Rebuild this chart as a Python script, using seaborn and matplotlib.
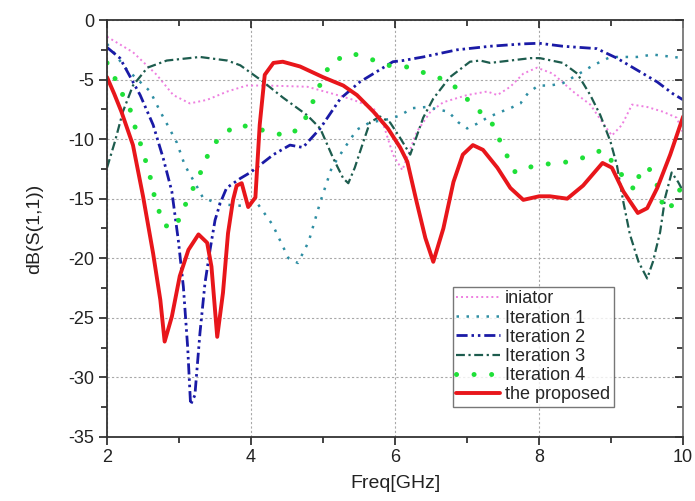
import matplotlib
matplotlib.use("Agg")
import matplotlib.pyplot as plt
from matplotlib.ticker import MultipleLocator
import seaborn as sns

# Reflection coefficient S11 (dB) vs frequency (GHz) for each design stage
x_iniator = [2.0, 2.36, 2.69, 2.92, 3.15, 3.39, 3.67, 3.94, 4.22, 4.78, 5.14, 5.42, 5.7, 5.85,
             5.97, 6.1, 6.3, 6.49, 6.67, 7.0, 7.28, 7.42, 7.6, 7.78, 7.97, 8.19, 8.47, 8.71,
             8.89, 9.01, 9.15, 9.29, 9.5, 9.72, 9.91, 10.0]
y_iniator = [-1.4, -2.7, -4.6, -6.3, -7.0, -6.7, -6.0, -5.5, -5.5, -5.6, -6.2, -6.7, -7.4, -9.0,
             -11.3, -12.6, -9.4, -7.7, -6.9, -6.3, -6.0, -6.3, -5.6, -4.5, -4.0, -4.5, -6.0, -7.1,
             -8.7, -9.7, -8.8, -7.1, -7.3, -7.7, -8.2, -9.5]

x_iter1 = [2.0, 2.14, 2.25, 2.46, 2.6, 2.74, 2.83, 2.97, 3.08, 3.25, 3.33, 3.53, 3.8, 4.1, 4.3,
           4.52, 4.65, 4.8, 4.96, 5.12, 5.28, 5.47, 5.65, 5.93, 6.07, 6.24, 6.44, 6.74, 6.88,
           7.0, 7.14, 7.28, 7.43, 7.6, 7.74, 7.85, 7.99, 8.15, 8.33, 8.53, 8.75, 8.99, 9.36,
           9.58, 10.0]
y_iter1 = [-2.0, -3.1, -4.0, -5.2, -6.0, -7.7, -8.7, -10.3, -12.2, -14.0, -14.9, -15.4, -15.6,
           -15.5, -17.2, -20.0, -20.4, -18.6, -15.3, -12.4, -10.9, -9.2, -8.6, -8.3, -8.0, -7.4,
           -7.3, -7.7, -8.6, -9.1, -8.7, -8.2, -7.8, -7.4, -7.0, -6.1, -5.5, -5.5, -5.3, -4.6,
           -3.8, -3.1, -3.1, -2.9, -3.2]

x_iter2 = [2.0, 2.18, 2.46, 2.64, 2.78, 2.9, 2.99, 3.06, 3.12, 3.16, 3.22, 3.29, 3.36, 3.43,
           3.5, 3.57, 3.66, 3.85, 3.99, 4.31, 4.54, 4.72, 4.96, 5.24, 5.51, 5.97, 6.11, 6.39,
           6.86, 7.32, 7.78, 8.0, 8.33, 8.8, 9.08, 9.36, 9.64, 9.86, 10.0]
y_iter2 = [-2.3, -3.2, -6.3, -8.8, -11.6, -14.4, -18.5, -22.4, -27.5, -32.3, -31.5, -26.3, -22.1,
           -19.3, -16.8, -15.4, -14.1, -13.3, -12.8, -11.3, -10.5, -10.7, -9.1, -6.6, -5.2, -3.5,
           -3.4, -3.1, -2.5, -2.2, -2.0, -1.95, -2.2, -2.4, -3.2, -4.2, -5.2, -6.2, -6.7]

x_iter3 = [2.0, 2.11, 2.22, 2.36, 2.56, 2.83, 3.29, 3.67, 3.85, 4.15, 4.44, 4.78, 4.96, 5.14,
           5.28, 5.35, 5.44, 5.56, 5.65, 5.79, 5.93, 6.07, 6.21, 6.39, 6.53, 6.76, 7.04, 7.18,
           7.32, 7.6, 7.88, 8.01, 8.33, 8.53, 8.71, 8.85, 8.99, 9.08, 9.17, 9.26, 9.38, 9.5,
           9.58, 9.68, 9.75, 9.84, 9.93, 10.0]
y_iter3 = [-12.4, -10.2, -7.7, -5.5, -4.0, -3.4, -3.1, -3.4, -3.8, -5.1, -6.5, -8.0, -9.1, -11.6,
           -13.3, -13.7, -12.4, -10.2, -8.6, -8.1, -8.6, -9.9, -11.3, -8.2, -6.6, -4.8, -3.5,
           -3.4, -3.6, -3.4, -3.2, -3.2, -3.6, -4.5, -6.3, -8.0, -10.2, -12.2, -15.3, -18.0,
           -20.3, -21.7, -20.3, -17.8, -14.9, -12.8, -13.6, -14.4]

x_iter4 = [2.0, 2.11, 2.22, 2.32, 2.39, 2.46, 2.53, 2.6, 2.64, 2.71, 2.78, 2.94, 3.04, 3.13,
           3.25, 3.43, 3.57, 3.8, 4.03, 4.29, 4.54, 4.72, 4.82, 4.92, 5.0, 5.12, 5.4, 5.63,
           5.88, 6.14, 6.39, 6.63, 6.83, 7.01, 7.18, 7.36, 7.46, 7.57, 7.67, 7.83, 7.99, 8.22,
           8.43, 8.64, 8.88, 9.03, 9.17, 9.33, 9.4, 9.51, 9.62, 9.73, 9.8, 9.89, 10.0]
y_iter4 = [-3.6, -4.9, -6.3, -7.5, -9.0, -10.3, -11.7, -13.2, -14.4, -15.8, -17.2, -17.5, -16.2,
           -14.9, -13.5, -10.9, -9.8, -8.8, -9.0, -9.5, -9.7, -8.7, -7.4, -6.0, -4.8, -3.5, -2.8,
           -3.2, -3.8, -3.9, -4.4, -4.9, -5.6, -6.7, -7.7, -8.8, -10.2, -11.6, -12.8, -12.4,
           -12.2, -12.0, -11.9, -11.5, -10.9, -12.0, -13.2, -14.3, -12.8, -12.3, -13.5, -15.8,
           -16.0, -15.0, -13.7]

x_proposed = [2.0, 2.1, 2.2, 2.36, 2.5, 2.64, 2.74, 2.8, 2.9, 3.01, 3.13, 3.27, 3.39, 3.45,
              3.53, 3.61, 3.68, 3.75, 3.8, 3.87, 3.96, 4.06, 4.12, 4.19, 4.31, 4.44, 4.68, 5.0,
              5.28, 5.47, 5.7, 5.9, 6.07, 6.17, 6.3, 6.42, 6.53, 6.67, 6.81, 6.94, 7.08, 7.22,
              7.42, 7.6, 7.78, 8.0, 8.15, 8.39, 8.61, 8.88, 9.01, 9.17, 9.37, 9.5, 9.64, 9.82,
              10.0]
y_proposed = [-4.8, -6.2, -7.7, -10.5, -14.8, -19.6, -23.5, -27.0, -24.9, -21.5, -19.3, -18.0,
              -18.7, -20.7, -26.6, -22.9, -17.9, -15.1, -13.9, -13.7, -15.7, -14.9, -8.8, -4.6,
              -3.6, -3.5, -3.9, -4.8, -5.5, -6.3, -7.7, -9.1, -10.7, -11.9, -15.3, -18.3, -20.3,
              -17.5, -13.6, -11.3, -10.5, -10.9, -12.4, -14.1, -15.1, -14.8, -14.8, -15.0, -13.9,
              -12.0, -12.4, -14.4, -16.2, -15.8, -14.1, -11.3, -8.1]

labels = ["iniator", "Iteration 1", "Iteration 2", "Iteration 3", "Iteration 4", "the proposed"]
x_ticks = [2, 4, 6, 8, 10]
y_ticks = [0, -5, -10, -15, -20, -25, -30, -35]

sns.set_theme(style="ticks")
plt.rcParams["font.family"] = ["Liberation Sans", "DejaVu Sans"]
plt.rcParams["axes.unicode_minus"] = False

fig = plt.figure(figsize=(6.95, 5.01), dpi=100)
ax = fig.add_axes([0.154, 0.128, 0.829, 0.832])

# colour, width, dash pattern (None = solid), cap style
styles = [
    ("#ee7fe0", 1.4, (1, 1.6), "butt"),
    ("#2e8ea3", 1.8, (1, 3), "butt"),
    ("#1a1aa6", 2.0, (4, 1.4, 0.9, 1.4, 0.9, 1.4), "butt"),
    ("#1d5c4e", 1.6, (4, 1.6, 1, 1.6), "butt"),
    ("#1fe038", 3.6, (0.01, 3.5), "round"),
    ("#e8161b", 2.8, None, "butt"),
]
data = [(x_iniator, y_iniator), (x_iter1, y_iter1), (x_iter2, y_iter2),
        (x_iter3, y_iter3), (x_iter4, y_iter4), (x_proposed, y_proposed)]

for (xs, ys), lab, (col, lw, dash, cap) in zip(data, labels, styles):
    ls = "-" if dash is None else (0, dash)
    sns.lineplot(x=xs, y=ys, ax=ax, label=lab, estimator=None, errorbar=None,
                 sort=False, color=col, linewidth=lw, linestyle=ls)
    line = ax.lines[-1]
    line.set_linestyle(ls)
    line.set_dash_capstyle(cap)

ax.set_xlim(2, 10)
ax.set_ylim(-35, 0)
ax.set_xticks(x_ticks)
ax.set_yticks(y_ticks)
ax.xaxis.set_minor_locator(MultipleLocator(1))
ax.yaxis.set_minor_locator(MultipleLocator(2.5))

ax.grid(True, which="major", color="#a8a8a8", linestyle=(0, (2, 2)), linewidth=0.8)
ax.set_axisbelow(True)

for side in ["left", "bottom", "top", "right"]:
    ax.spines[side].set_visible(True)
    ax.spines[side].set_linewidth(1.3)
    ax.spines[side].set_color("#333333")
ax.spines["right"].set_color("#777777")

ax.tick_params(axis="both", which="major", direction="out", length=6, width=1.2,
               labelsize=13, pad=3, colors="#222222")
ax.tick_params(axis="both", which="minor", direction="out", length=4, width=1.2,
               colors="#222222")
ax.tick_params(which="both", top=True, right=True)
for tick in ax.xaxis.get_major_ticks() + ax.xaxis.get_minor_ticks():
    tick.tick2line.set_marker(3)  # inward on top
for tick in ax.yaxis.get_major_ticks() + ax.yaxis.get_minor_ticks():
    tick.tick2line.set_marker(0)  # inward on right

ax.set_xlabel("Freq[GHz]", fontsize=14, labelpad=6, color="#222222")
ax.set_ylabel("dB(S(1,1))", fontsize=14, labelpad=18, color="#222222")

leg = ax.legend(loc="upper left", bbox_to_anchor=(0.6, 0.36), fontsize=13,
                frameon=True, fancybox=False, handlelength=2.4, handletextpad=0.3,
                labelspacing=0.12, borderpad=0.2, borderaxespad=0)
leg.get_frame().set_edgecolor("#555555")
leg.get_frame().set_linewidth(1.0)
for h, (col, lw, dash, cap) in zip(leg.get_lines(), styles):
    h.set_linestyle("-" if dash is None else (0, dash))
    h.set_dash_capstyle(cap)

fig.savefig("out.png", dpi=100)
